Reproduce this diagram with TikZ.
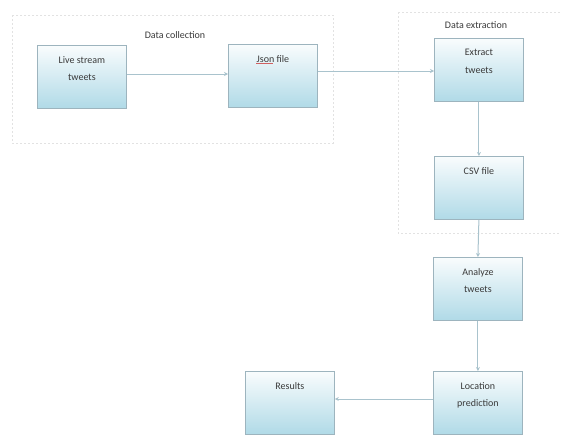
\documentclass[tikz,border=0pt]{standalone}
\usepackage{fontspec}
\setmainfont{Carlito}
\usetikzlibrary{arrows.meta,shadows}
\definecolor{boxtop}{HTML}{F9FCFD}
\definecolor{boxbot}{HTML}{B0DAE7}
\definecolor{boxline}{HTML}{9DB4BE}
\definecolor{arrowc}{HTML}{A9C3CD}
\definecolor{txt}{HTML}{3A3A3A}
\definecolor{groupc}{HTML}{E2E2E2}
\definecolor{spell}{HTML}{D06060}
\tikzset{
  procbox/.style={draw=boxline, line width=0.8pt, top color=boxtop, bottom color=boxbot,
    minimum width=89pt, minimum height=63pt, anchor=north west, inner sep=0pt,
    drop shadow={shadow xshift=1pt, shadow yshift=-1pt, fill=black!25, opacity=0.6}},
  boxtext/.style={align=center, font=\fontsize{10}{17.5}\selectfont, text=txt, anchor=north, inner sep=0pt},
  grp/.style={draw=groupc, dash pattern=on 2pt off 2pt, line width=0.7pt},
  grplabel/.style={font=\fontsize{10}{12}\selectfont, text=txt},
  conn/.style={draw=arrowc, line width=1pt, -{Stealth[length=4pt,width=4pt]}}
}
\begin{document}
\begin{tikzpicture}[x=1pt,y=-1pt]
\useasboundingbox (0,0) rectangle (561,434);
\fill[white] (0,0) rectangle (561,434);
% groups
\draw[grp] (12,15) rectangle (333,143);
\draw[grp] (398,12) -- (561,12) (398,12) -- (398,233) -- (561,233);
\node[grplabel] (gdc) at (175,35) {Data collection};
\node[grplabel] (gde) at (476,25) {Data extraction};
% boxes
\node[procbox] (live) at (37,45) {};
\node[procbox] (json) at (228,44) {};
\node[procbox] (ext) at (434,38) {};
\node[procbox] (csv) at (434,156) {};
\node[procbox] (ana) at (433,257) {};
\node[procbox] (loc) at (433,371) {};
\node[procbox] (res) at (245,371) {};
% texts
\node[boxtext] (tlive) at ([yshift=-11pt]live.north) {Live stream\\tweets};
\node[boxtext] (tjson) at ([yshift=-11pt]json.north) {Json file};
\draw[spell, line width=0.6pt] ([yshift=-1.5pt]tjson.base west) -- ++(17pt,0);
\node[boxtext] (text) at ([yshift=-11pt]ext.north) {Extract\\tweets};
\node[boxtext] (tcsv) at ([yshift=-11pt]csv.north) {CSV file};
\node[boxtext] (tana) at ([yshift=-11pt]ana.north) {Analyze\\tweets};
\node[boxtext] (tloc) at ([yshift=-11pt]loc.north) {Location\\prediction};
\node[boxtext] (tres) at ([yshift=-11pt]res.north) {Results};
% connectors
\draw[conn] (live.east |- 0,74) -- (json.west |- 0,74);
\draw[conn] (json.east |- 0,71) -- (ext.west |- 0,71);
\draw[conn] (ext.south) -- (csv.north);
\draw[conn] (csv.south) -- (ana.north);
\draw[conn] (ana.south) -- (loc.north);
\draw[conn] (loc.west |- 0,399) -- (res.east |- 0,399);
\end{tikzpicture}
\end{document}
